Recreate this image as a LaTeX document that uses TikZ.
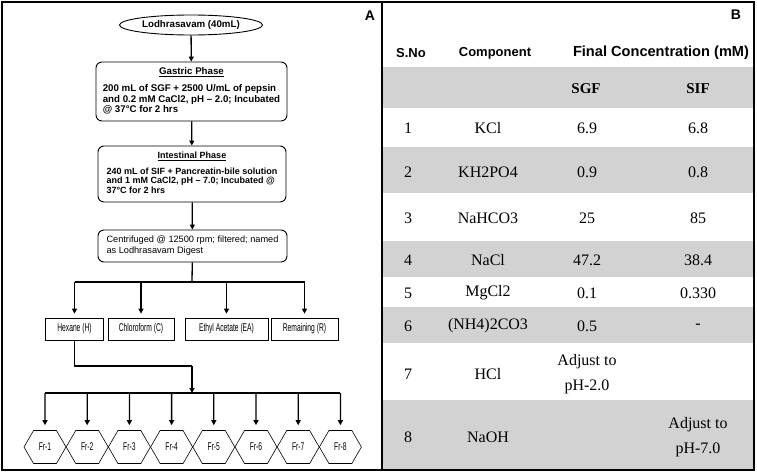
\documentclass[tikz,border=0pt]{standalone}
\usepackage{fontspec}
\setmainfont{Liberation Serif}
\newfontfamily\arialfont{Liberation Sans}
\newfontfamily\condfont[FakeStretch=0.6]{Liberation Sans}
\usepackage{tikz}
\usetikzlibrary{shapes,arrows,positioning,calc,arrows.meta}

\tikzset{
  wire/.style={line width=1.3pt},
  arr/.style={line width=1.3pt,-{Triangle[length=5pt,width=5pt]}},
  phase/.style={draw,line width=0.9pt,rounded corners=6pt,inner sep=0pt,
    font=\arialfont\bfseries\fontsize{9.7}{10.3}\selectfont},
  solvent/.style={draw,line width=0.7pt,minimum height=22pt,inner sep=0pt,
    font=\condfont\fontsize{11.2}{12}\selectfont},
  frac/.style={draw,line width=0.6pt,signal,signal to=east and west,signal pointer angle=120,
    minimum width=42pt,minimum height=33pt,inner sep=0pt,font=\condfont\fontsize{11.2}{12}\selectfont},
  band/.style={fill=gray!35},
  frame/.style={line width=1.6pt},
  cell/.style={font=\fontsize{16}{25}\selectfont,align=center,inner sep=0pt},
  head/.style={font=\arialfont\bfseries\fontsize{13}{15}\selectfont,inner sep=0pt},
  panel/.style={font=\arialfont\bfseries\fontsize{14}{16}\selectfont,inner sep=0pt}
}

\begin{document}
\begin{tikzpicture}[x=1pt,y=-1pt]
\useasboundingbox (0,0) rectangle (757,474);

% table B
\foreach \ya/\yb in {67/108,147/193,241/277,307/343,400/469}
  \fill[band] (382,\ya) rectangle (754,\yb);
\draw[frame] (2,2) rectangle (382,470);
\draw[frame] (382,2) rectangle (754,470);
\node[panel] (labA) at (370,16) {A};
\node[panel] (labB) at (736,15) {B};

\node[head] (hno) at (411,53) {S.No};
\node[head] (hcomp) at (495,53) {Component};
\node[head,font=\arialfont\bfseries\fontsize{14.6}{16}\selectfont] (hconc) at (661,53) {Final Concentration (mM)};
\node[cell,font=\bfseries\fontsize{15}{17}\selectfont] (hsgf) at (586,89) {SGF};
\node[cell,font=\bfseries\fontsize{15}{17}\selectfont] (hsif) at (698,89) {SIF};

\foreach \r/\y/\c/\g/\s in {1/128/KCl/6.9/6.8, 2/172/KH2PO4/0.9/0.8, 3/218/NaHCO3/25/85,
    4/260/NaCl/47.2/38.4, 5/293/MgCl2/0.1/0.330, 6/326/{(NH4)2CO3}/0.5/-,
    7/374/HCl/{Adjust to\\pH-2.0}/{}, 8/437/NaOH/{}/{Adjust to\\pH-7.0}}{
  \node[cell] (n\r) at (408,\y) {\r};
  \node[cell] (c\r) at (488,\y) {\c};
  \node[cell] (g\r) at (587,\y) {\g};
  \node[cell] (s\r) at (698,\y) {\s};
}

% flowchart A
\node[draw,ellipse,line width=0.9pt,minimum width=143pt,minimum height=20pt,inner sep=0pt,
  font=\arialfont\bfseries\fontsize{9.7}{11}\selectfont] (src) at (191,25) {Lodhrasavam (40mL)};
\node[phase,minimum width=191pt,minimum height=59pt] (gas) at (191.5,91.5)
  {\begin{tabular}{@{}l@{}}
   \multicolumn{1}{@{}c@{}}{\underline{Gastric Phase}}\\[7pt]
   200 mL of SGF + 2500 U/mL of pepsin\\
   and 0.2 mM CaCl2, pH – 2.0; Incubated\\
   @ 37°C for 2 hrs
   \end{tabular}};
\node[phase,minimum width=188pt,minimum height=56pt,
  font=\arialfont\bfseries\fontsize{9}{9.7}\selectfont] (int) at (192,174)
  {\begin{tabular}{@{}l@{}}
   \multicolumn{1}{@{}c@{}}{\underline{Intestinal Phase}}\\[6pt]
   240 mL of SIF + Pancreatin-bile solution\\
   and 1 mM CaCl2, pH – 7.0; Incubated @\\
   37°C for 2 hrs
   \end{tabular}};
\node[phase,minimum width=189pt,minimum height=32pt,
  font=\arialfont\fontsize{9.2}{11}\selectfont] (dig) at (192.5,246)
  {\begin{tabular}{@{}l@{}}
   Centrifuged @ 12500 rpm; filtered; named\\
   as Lodhrasavam Digest
   \end{tabular}};

\draw[arr] (src) -- (gas);
\draw[arr] (gas) -- (int);
\draw[arr] (int) -- (dig);

\node[solvent,minimum width=58pt] (hex) at (74.5,329) {Hexane (H)};
\node[solvent,minimum width=66pt] (chl) at (141,329) {Chloroform (C)};
\node[solvent,minimum width=83pt] (eth) at (226.5,329) {Ethyl Acetate (EA)};
\node[solvent,minimum width=67pt] (rem) at (304.5,329) {Remaining (R)};

\coordinate (split) at (192,282);
\draw[wire] (dig) -- (split);
\draw[wire] (split -| hex) -- (split -| rem);
\foreach \n in {hex,chl,eth,rem}
  \draw[arr,shorten >=4pt] (split -| \n) -- (\n);

\foreach \i in {1,...,8}
  \node[frac] (f\i) at ({45+42.2*(\i-1)},447) {Fr-\i};

\coordinate (bend) at (192,366);
\coordinate (fan) at (192,393);
\draw[wire] (hex) |- (bend);
\draw[arr] (bend) -- (fan);
\draw[wire] (fan -| f1) -- (fan -| f8);
\foreach \i in {1,...,8}
  \draw[arr,shorten >=5pt] (fan -| f\i) -- (f\i);
\end{tikzpicture}
\end{document}
